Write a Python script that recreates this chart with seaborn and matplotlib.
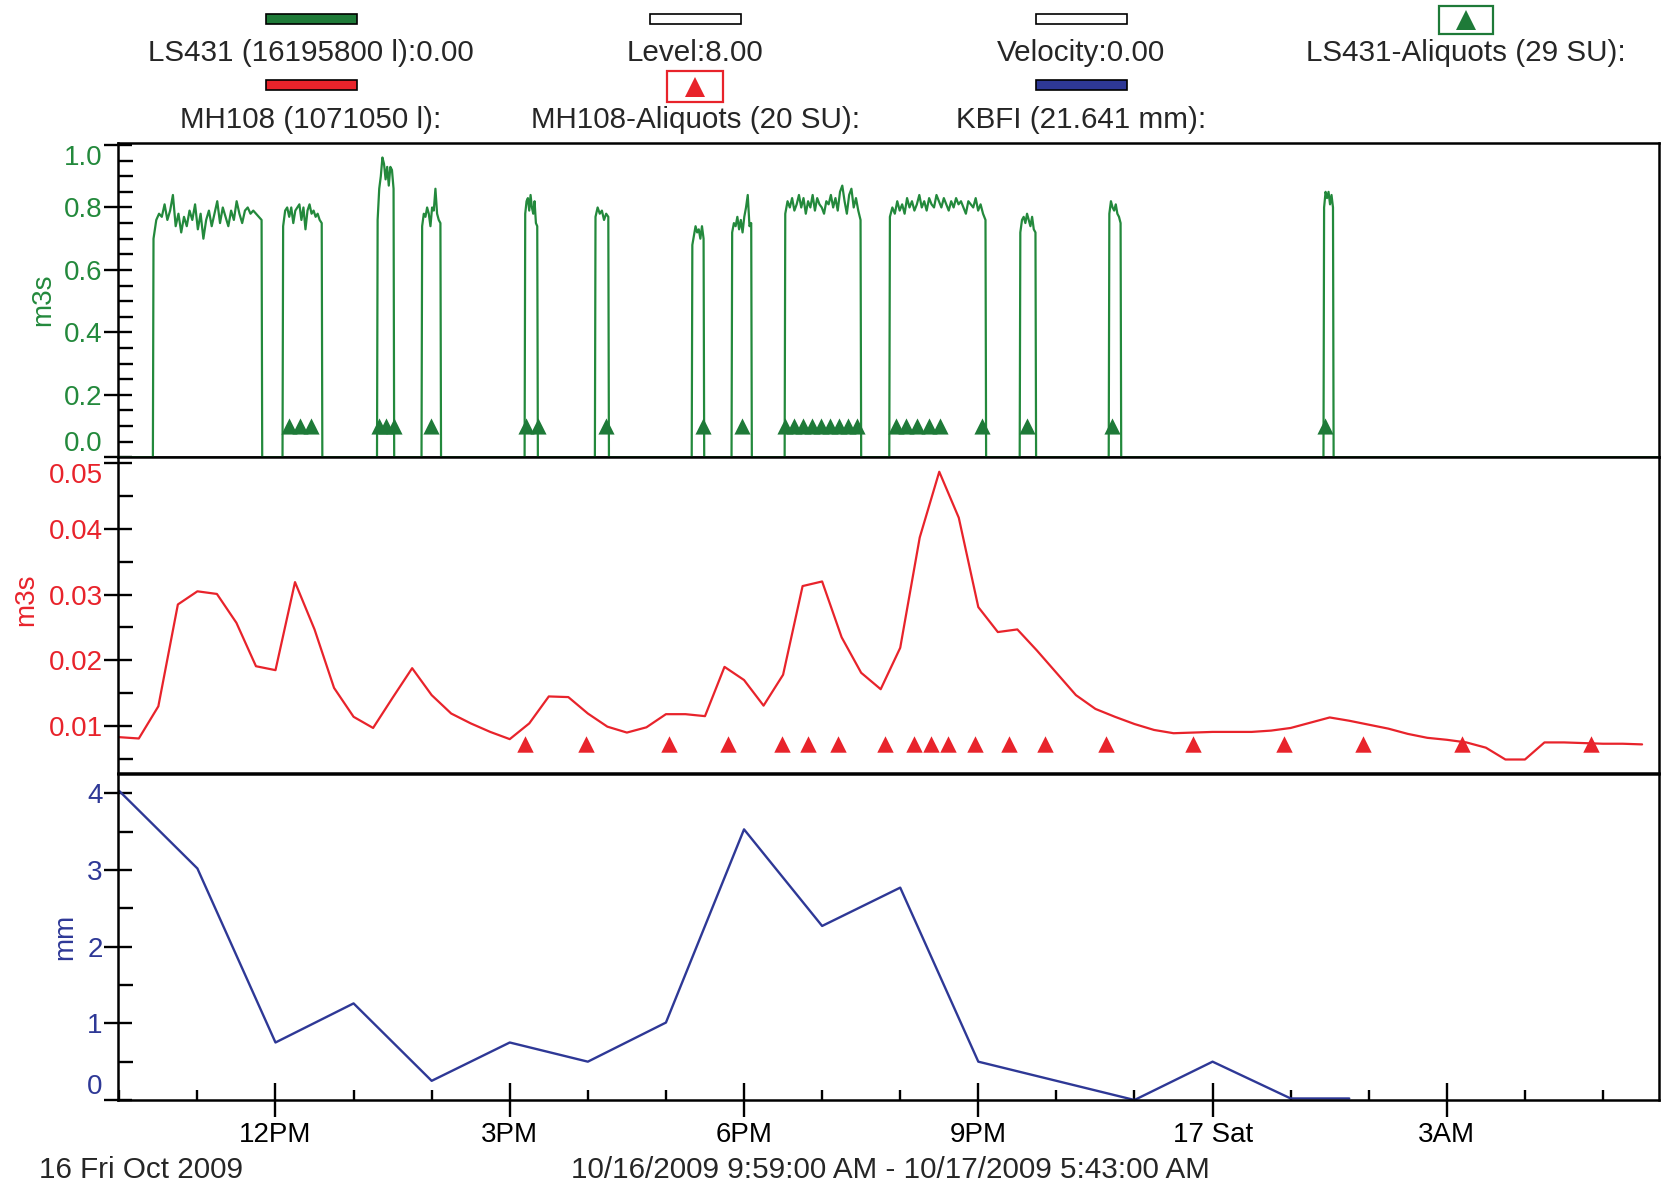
import numpy as np
import pandas as pd
import matplotlib
matplotlib.use("Agg")
import matplotlib.pyplot as plt
import seaborn as sns
from matplotlib.lines import Line2D
from matplotlib.patches import Rectangle

# ---------------- data (time = hours since 00:00, 16 Oct 2009) ----------------
x_start = 9 + 59 / 60          # 10/16/2009 9:59 AM
x_end = 29 + 43 / 60           # 10/17/2009 5:43 AM

# LS431 flow (m3s) : pump-on pulses
ls431_starts = [10.43, 12.09, 13.30, 13.87, 15.19, 16.09, 17.33, 17.84, 18.52, 19.86, 21.53, 22.67, 25.42]
ls431_ends = [11.83, 12.60, 13.52, 14.12, 15.36, 16.27, 17.49, 18.10, 19.50, 21.10, 21.74, 22.83, 25.55]
ls431_p01 = [0.70, 0.76, 0.78, 0.77, 0.81, 0.76, 0.79, 0.84, 0.74, 0.78, 0.72, 0.77, 0.74, 0.79,
             0.76, 0.81, 0.73, 0.78, 0.70, 0.76, 0.79, 0.74, 0.78, 0.82, 0.75, 0.80, 0.77, 0.74,
             0.79, 0.76, 0.82, 0.78, 0.75, 0.79, 0.80, 0.78, 0.79, 0.78, 0.77, 0.76]
ls431_p02 = [0.74, 0.79, 0.80, 0.77, 0.80, 0.75, 0.79, 0.80, 0.81, 0.76, 0.80, 0.73, 0.79, 0.81,
             0.78, 0.79, 0.77, 0.78, 0.76, 0.75]
ls431_p03 = [0.76, 0.86, 0.90, 0.96, 0.94, 0.89, 0.93, 0.87, 0.93, 0.92, 0.86]
ls431_p04 = [0.74, 0.78, 0.77, 0.80, 0.78, 0.74, 0.80, 0.79, 0.86, 0.78, 0.76, 0.75]
ls431_p05 = [0.78, 0.82, 0.83, 0.79, 0.84, 0.80, 0.78, 0.82, 0.75, 0.74]
ls431_p06 = [0.77, 0.80, 0.78, 0.79, 0.76, 0.78, 0.77]
ls431_p07 = [0.68, 0.71, 0.74, 0.72, 0.73, 0.70, 0.74, 0.70]
ls431_p08 = [0.72, 0.75, 0.74, 0.77, 0.73, 0.76, 0.72, 0.77, 0.80, 0.84, 0.74, 0.75]
ls431_p09 = [0.78, 0.82, 0.80, 0.83, 0.79, 0.81, 0.84, 0.80, 0.83, 0.78, 0.82, 0.80, 0.84, 0.79,
             0.83, 0.81, 0.80, 0.78, 0.82, 0.81, 0.84, 0.80, 0.83, 0.79, 0.85, 0.87, 0.82, 0.78,
             0.84, 0.86, 0.80, 0.83, 0.79, 0.76]
ls431_p10 = [0.77, 0.80, 0.78, 0.82, 0.79, 0.81, 0.78, 0.83, 0.80, 0.82, 0.79, 0.81, 0.84, 0.80,
             0.82, 0.79, 0.83, 0.81, 0.80, 0.84, 0.82, 0.80, 0.83, 0.81, 0.79, 0.82, 0.80, 0.83,
             0.81, 0.82, 0.80, 0.78, 0.82, 0.81, 0.80, 0.83, 0.79, 0.81, 0.78, 0.76]
ls431_p11 = [0.72, 0.76, 0.77, 0.75, 0.78, 0.76, 0.74, 0.77, 0.73, 0.72]
ls431_p12 = [0.78, 0.82, 0.80, 0.79, 0.81, 0.78, 0.77, 0.75]
ls431_p13 = [0.80, 0.85, 0.83, 0.85, 0.81, 0.84, 0.80]

# LS431 aliquot (sample) times
ls431_aliquot_times = [12.17, 12.32, 12.46, 13.32, 13.42, 13.52, 13.99, 15.21, 15.36, 16.23,
                       17.47, 17.98, 18.52, 18.64, 18.76, 18.87, 18.99, 19.10, 19.22, 19.33,
                       19.45, 19.94, 20.08, 20.22, 20.37, 20.51, 21.05, 21.62, 22.71, 25.44]
ls431_aliquot_level = 0.10

# MH108 flow (m3s), 15-minute readings from 10:00 to 05:30
mh108_first, mh108_step = 10.0, 0.25
mh108_values = [0.0083, 0.0081, 0.0130, 0.0285, 0.0305, 0.0301, 0.0257, 0.0191,
                0.0185, 0.0319, 0.0247, 0.0158, 0.0114, 0.0097, 0.0143, 0.0188,
                0.0147, 0.0119, 0.0104, 0.0091, 0.0080, 0.0104, 0.0145, 0.0144,
                0.0119, 0.0099, 0.0090, 0.0098, 0.0118, 0.0118, 0.0115, 0.0190,
                0.0170, 0.0131, 0.0178, 0.0313, 0.0320, 0.0235, 0.0181, 0.0156,
                0.0219, 0.0387, 0.0487, 0.0417, 0.0281, 0.0243, 0.0247, 0.0215,
                0.0181, 0.0147, 0.0126, 0.0114, 0.0103, 0.0094, 0.0089, 0.0090,
                0.0091, 0.0091, 0.0091, 0.0093, 0.0097, 0.0105, 0.0113, 0.0108,
                0.0102, 0.0096, 0.0088, 0.0082, 0.0079, 0.0075, 0.0067, 0.0049,
                0.0049, 0.0075, 0.0075, 0.0074, 0.0073, 0.0073, 0.0072]
mh108_aliquot_times = [15.20, 15.98, 17.04, 17.80, 18.48, 18.82, 19.20, 19.80, 20.18, 20.40,
                       20.61, 20.96, 21.39, 21.86, 22.63, 23.75, 24.91, 25.92, 27.19, 28.84]
mh108_aliquot_level = 0.0073

# KBFI rainfall (mm), hourly
kbfi_times = [10, 11, 12, 13, 14, 15, 16, 17, 18, 19, 20, 21, 22, 23, 24, 25, 25.75]
kbfi_values = [4.03, 3.02, 0.75, 1.26, 0.25, 0.75, 0.50, 1.01, 3.53, 2.27, 2.77, 0.50, 0.25,
               0.0, 0.50, 0.02, 0.02]

# axis ticks / labels
x_major_ticks = [12, 15, 18, 21, 24, 27]
x_major_labels = ["12PM", "3PM", "6PM", "9PM", "17 Sat", "3AM"]
x_minor_ticks = [10, 11, 13, 14, 16, 17, 19, 20, 22, 23, 25, 26, 28, 29]
top_yticks = [0.0, 0.2, 0.4, 0.6, 0.8, 1.0]
top_ylabels = ["0.0", "0.2", "0.4", "0.6", "0.8", "1.0"]
mid_yticks = [0.01, 0.02, 0.03, 0.04, 0.05]
mid_ylabels = ["0.01", "0.02", "0.03", "0.04", "0.05"]
bot_yticks = [0, 1, 2, 3, 4]
bot_ylabels = ["0", "1", "2", "3", "4"]

# ---------------- build tables ----------------
pulses = [ls431_p01, ls431_p02, ls431_p03, ls431_p04, ls431_p05, ls431_p06, ls431_p07,
          ls431_p08, ls431_p09, ls431_p10, ls431_p11, ls431_p12, ls431_p13]
gx, gy = [x_start], [0.0]
for t0, t1, vals in zip(ls431_starts, ls431_ends, pulses):
    gx += [t0] + list(np.linspace(t0 + 0.008, t1 - 0.008, len(vals))) + [t1]
    gy += [0.0] + vals + [0.0]
gx.append(x_end)
gy.append(0.0)
ls431_df = pd.DataFrame({"t": gx, "q": gy})

mh108_df = pd.DataFrame({"t": mh108_first + mh108_step * np.arange(len(mh108_values)),
                         "q": mh108_values})
kbfi_df = pd.DataFrame({"t": kbfi_times, "mm": kbfi_values})
ls431_al = pd.DataFrame({"t": ls431_aliquot_times, "y": ls431_aliquot_level})
mh108_al = pd.DataFrame({"t": mh108_aliquot_times, "y": mh108_aliquot_level})

# ---------------- style ----------------
sns.set_style("white")
plt.rcParams["font.family"] = ["Liberation Sans", "DejaVu Sans"]

GREEN = "#23893c"
GREEN_D = "#1e7a38"
RED = "#e8232b"
BLUE = "#2e3896"
FS = 20
FS_HEAD = 21.3

W, H = 1665, 1186
fig = plt.figure(figsize=(W / 100, H / 100), dpi=100)


def axes_px(left, top, right, bottom):
    return fig.add_axes([left / W, 1 - bottom / H, (right - left) / W, (bottom - top) / H])


ax1 = axes_px(118, 142.7, 1659, 457.3)
ax2 = axes_px(118, 457.3, 1659, 773.3)
ax3 = axes_px(118, 774, 1659, 1100)

# draw
sns.lineplot(data=ls431_df, x="t", y="q", ax=ax1, color=GREEN, linewidth=1.6,
             sort=False, estimator=None, clip_on=False, zorder=5)
sns.scatterplot(data=ls431_al, x="t", y="y", ax=ax1, marker="^", s=135, color=GREEN_D,
                linewidth=0, zorder=6)
sns.lineplot(data=mh108_df, x="t", y="q", ax=ax2, color=RED, linewidth=1.6,
             sort=False, estimator=None)
sns.scatterplot(data=mh108_al, x="t", y="y", ax=ax2, marker="^", s=140, color=RED,
                linewidth=0, zorder=6)
sns.lineplot(data=kbfi_df, x="t", y="mm", ax=ax3, color=BLUE, linewidth=1.7,
             sort=False, estimator=None, clip_on=False)

# axes cosmetics: (axis, ylim, ticks, labels, minor step, colour, label, label x, label y)
panels = [
    (ax1, (0.0, 1.0074), top_yticks, top_ylabels, 0.05, GREEN, "m3s", -0.0402, 0.5),
    (ax2, (0.0028, 0.0509), mid_yticks, mid_ylabels, 0.005, RED, "m3s", -0.0513, 0.55),
    (ax3, (0.0, 4.252), bot_yticks, bot_ylabels, 0.5, BLUE, "mm", -0.0260, 0.5),
]
for ax, ylim, yt, yl, minor_step, col, lab, lab_x, lab_y in panels:
    ax.set_xlim(x_start, x_end)
    ax.set_ylim(*ylim)
    ax.set_yticks(yt)
    ax.set_yticklabels(yl)
    lo = np.ceil(ylim[0] / minor_step - 1e-6) * minor_step
    minors = [v for v in np.arange(lo, ylim[1], minor_step)
              if all(abs(v - m) > minor_step * 0.1 for m in yt)]
    ax.set_yticks(minors, minor=True)
    ax.tick_params(axis="y", which="both", left=True, right=False)
    ax.tick_params(axis="y", which="major", direction="inout", length=20, width=1.7,
                   color="black", labelcolor=col, labelsize=FS, pad=1)
    ax.tick_params(axis="y", which="minor", direction="in", length=11, width=1.7,
                   color="black")
    ax.set_ylabel(lab, color=col, fontsize=FS)
    ax.yaxis.set_label_coords(lab_x, lab_y)
    ax.set_xlabel("")
    for s in ax.spines.values():
        s.set_linewidth(1.8)
        s.set_color("black")
        s.set_visible(True)

for ax in (ax1, ax2):
    ax.set_xticks([])
    ax.tick_params(axis="x", which="both", bottom=False, labelbottom=False)

ax3.set_xticks(x_major_ticks)
ax3.set_xticklabels(x_major_labels)
ax3.set_xticks(x_minor_ticks, minor=True)
ax3.tick_params(axis="x", which="both", bottom=True, top=False)
ax3.tick_params(axis="x", which="major", direction="inout", length=25, width=1.7,
                labelsize=FS, pad=3, color="black", labelcolor="black")
ax3.tick_params(axis="x", which="minor", direction="in", length=7, width=1.7,
                color="black")

# ---------------- legend header ----------------
def fx(x):
    return x / W


def fy(y):
    return 1 - y / H


def bar(cx, cy, face):
    fig.add_artist(Rectangle((fx(cx - 45.5), fy(cy + 5.3)), 91 / W, 10.6 / H,
                             facecolor=face, edgecolor="black", linewidth=1.2,
                             transform=fig.transFigure))


def tri_box(cx, cy, w, h, col):
    fig.add_artist(Rectangle((fx(cx - w / 2), fy(cy + h / 2)), w / W, h / H,
                             facecolor="white", edgecolor=col, linewidth=1.6,
                             transform=fig.transFigure))
    fig.add_artist(Line2D([fx(cx)], [fy(cy)], marker="^", markersize=14, color=col,
                          markeredgewidth=0, linestyle="none", transform=fig.transFigure))


col_x = [311, 695.5, 1081, 1466]
bar(col_x[0], 19, GREEN_D)
bar(col_x[1], 19, "white")
bar(col_x[2], 19, "white")
tri_box(col_x[3], 20, 54, 28, GREEN_D)
bar(col_x[0], 85, RED)
tri_box(col_x[1], 86.5, 56, 31, RED)
bar(col_x[2], 85, BLUE)

row1 = ["LS431 (16195800 l):0.00", "Level:8.00", "Velocity:0.00", "LS431-Aliquots (29 SU):"]
row2 = ["MH108 (1071050 l):", "MH108-Aliquots (20 SU):", "KBFI (21.641 mm):"]
for cx, t in zip(col_x, row1):
    fig.text(fx(cx), fy(53), t, ha="center", va="center", fontsize=FS_HEAD)
for cx, t in zip(col_x, row2):
    fig.text(fx(cx), fy(120), t, ha="center", va="center", fontsize=FS_HEAD)

fig.text(fx(39), fy(1170), "16 Fri Oct 2009", ha="left", va="center", fontsize=FS_HEAD)
fig.text(fx(890), fy(1170), "10/16/2009 9:59:00 AM - 10/17/2009 5:43:00 AM",
         ha="center", va="center", fontsize=FS_HEAD)

# shift end labels inward like the original software does
fig.canvas.draw()
t1 = ax1.get_yticklabels()
t1[0].set_va("bottom")
t1[-1].set_va("top")
t2 = ax2.get_yticklabels()
t2[-1].set_va("top")
t3 = ax3.get_yticklabels()
t3[0].set_va("bottom")

fig.savefig("out.png", dpi=100, facecolor="white")
